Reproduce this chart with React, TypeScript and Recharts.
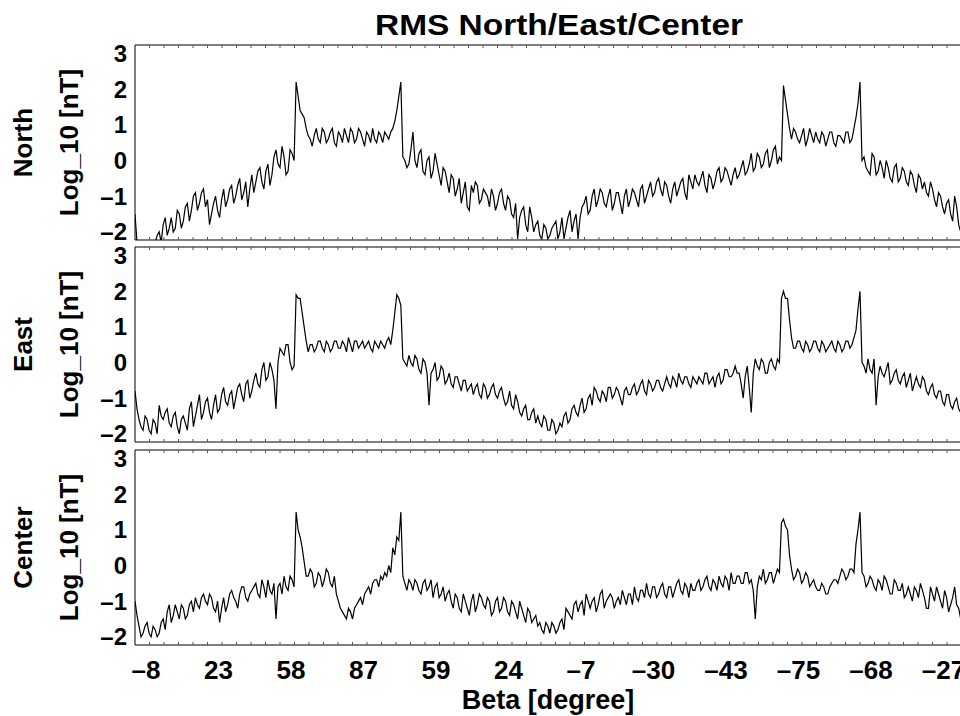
import React from 'react';
import { LineChart, Line, XAxis, YAxis } from 'recharts';

// x tick labels (Beta in degrees) at every major tick
const tickLabels = ['–8', '23', '58', '87', '59', '24', '–7', '–30', '–43', '–75', '–68', '–27'];
const yTicks = [-2, -1, 0, 1, 2, 3];

// log10 RMS values: "A" at whole sample steps (~4 px),
// "B" at the half steps in between
const northA = [
  -1.5, -2.3, -2.3, -2.3, -2.3, -2.3, -2.0, -1.8, -2.1, -1.6,
  -1.9, -1.5, -1.7, -1.2, -1.4, -0.9, -1.2, -0.8, -1.1, -1.5,
  -1.0, -1.6, -0.8, -1.1, -0.7, -1.0, -0.5, -0.9, -1.3, -0.4,
  -0.6, -0.2, -0.8, -0.1, -0.4, 0.3, -0.2, 0.1, -0.3, 0.2,
  2.2, 1.4, 1.2, 0.7, 0.4, 0.9, 0.5, 0.8, 0.6, 0.9,
  0.4, 0.7, 0.9, 0.5, 0.8, 0.6, 0.8, 0.4, 0.7, 0.9,
  0.5, 0.7, 0.8, 0.6, 0.9, 1.4, 2.2, 0.0, -0.1, 0.8,
  -0.2, 0.3, -0.4, 0.1, -0.3, -0.1, -0.7, -0.3, -0.9, -0.5,
  -0.8, -1.2, -0.6, -1.4, -0.9, -0.7, -1.1, -0.9, -1.3, -1.0,
  -1.2, -0.8, -1.4, -1.1, -1.6, -2.2, -1.4, -1.8, -1.3, -2.0,
  -1.7, -2.2, -1.9, -2.1, -1.8, -2.2, -1.6, -1.9, -1.4, -1.7,
  -2.2, -1.3, -1.0, -1.4, -0.8, -1.1, -0.9, -1.3, -0.8, -1.2,
  -0.9, -1.5, -0.8, -1.1, -0.9, -1.3, -0.7, -1.0, -0.6, -0.9,
  -0.5, -1.0, -0.7, -1.2, -0.6, -0.8, -0.5, -1.1, -0.6, -0.4,
  -0.7, -0.3, -0.9, -0.5, -0.6, -0.2, -0.5, -0.3, -0.7, -0.2,
  -0.4, 0.0, -0.3, 0.2, -0.2, 0.1, -0.1, 0.3, 0.0, 0.4,
  0.1, 2.1, 1.3, 0.6, 0.8, 0.5, 0.9, 0.6, 0.7, 0.8,
  0.5, 0.7, 0.6, 0.8, 0.4, 0.7, 0.5, 0.8, 0.6, 1.2,
  2.2, 0.1, -0.3, 0.2, -0.4, 0.0, -0.5, -0.2, -0.6, -0.1,
  -0.5, -0.3, -0.7, -0.4, -0.9, -0.5, -0.6, -1.0, -0.8, -1.3,
  -1.0, -1.5, -1.1, -1.7, -1.3, -2.0, -1.6,
];
const northB = [
  -2.3, -2.3, -2.3, -2.3, -2.3, -2.1, -2.3, -1.6, -1.9, -2.0,
  -1.4, -1.9, -1.3, -1.7, -1.0, -1.4, -0.9, -1.3, -1.8, -1.2,
  -1.4, -1.1, -1.3, -0.8, -1.2, -0.7, -1.1, -0.6, -0.8, -0.9,
  -0.3, -0.6, -0.3, -0.7, 0.1, -0.1, 0.4, -0.4, 0.3, 0.0,
  1.8, 1.3, 0.9, 0.6, 0.7, 0.6, 0.9, 0.5, 0.8, 0.5,
  0.8, 0.5, 0.7, 0.9, 0.5, 0.9, 0.6, 0.8, 0.5, 0.6,
  0.8, 0.5, 0.7, 0.8, 1.1, 1.8, 0.1, -0.2, 0.3, 0.0,
  0.2, -0.3, 0.0, -0.5, 0.2, -0.4, -0.2, -0.6, -0.4, -1.0,
  -0.5, -0.9, -1.3, -0.7, -0.6, -1.2, -0.8, -1.0, -0.8, -1.4,
  -0.9, -1.2, -1.0, -1.5, -1.2, -1.6, -1.3, -2.0, -1.6, -1.8,
  -2.1, -1.8, -2.2, -1.9, -1.7, -2.0, -2.2, -1.6, -2.0, -1.5,
  -1.6, -1.2, -1.5, -1.0, -1.3, -0.8, -1.2, -1.0, -1.4, -0.9,
  -1.2, -1.0, -1.3, -0.8, -1.1, -0.8, -1.2, -0.8, -1.0, -0.6,
  -0.8, -0.6, -1.0, -0.8, -1.0, -0.6, -0.9, -0.4, -0.8, -0.6,
  -0.5, -0.7, -0.4, -0.8, -0.3, -0.6, -0.2, -0.5, -0.4, -0.5,
  -0.2, -0.4, -0.1, -0.3, 0.2, -0.2, 0.2, -0.2, 0.3, -0.1,
  0.0, 1.7, 0.9, 0.9, 0.6, 0.7, 0.4, 0.9, 0.5, 0.6,
  0.8, 0.4, 0.8, 0.5, 0.7, 0.6, 0.8, 0.5, 0.9, 1.6,
  0.0, -0.2, -0.4, 0.1, -0.3, -0.2, 0.0, -0.5, -0.2, -0.6,
  -0.2, -0.6, -0.3, -0.7, -0.4, -0.8, -0.9, -0.6, -1.1, -0.9,
  -1.3, -1.2, -1.5, -1.0, -1.8, -1.4,
];

const eastA = [
  -0.8, -1.6, -1.9, -1.6, -2.0, -1.7, -1.2, -1.6, -1.3, -1.8,
  -1.4, -2.0, -1.5, -1.9, -1.1, -1.5, -0.9, -1.4, -1.0, -1.6,
  -0.9, -1.3, -0.7, -1.2, -0.8, -1.0, -0.6, -1.1, -0.5, -0.8,
  -0.3, -0.7, 0.0, -0.4, -0.2, -1.3, 0.4, 0.2, 0.5, -0.2,
  1.9, 1.8, 1.0, 0.3, 0.5, 0.4, 0.6, 0.3, 0.5, 0.4,
  0.6, 0.4, 0.5, 0.7, 0.3, 0.6, 0.5, 0.4, 0.6, 0.3,
  0.5, 0.6, 0.4, 0.7, 0.9, 1.9, 1.6, 0.0, 0.2, -0.1,
  0.1, -0.3, 0.0, -1.2, -0.2, -0.5, -0.1, -0.6, -0.3, -0.7,
  -0.4, -0.8, -0.5, -0.7, -0.9, -0.6, -1.0, -0.7, -0.9, -0.6,
  -1.0, -0.7, -1.2, -0.8, -1.3, -1.1, -1.5, -1.2, -1.6, -1.3,
  -1.5, -1.8, -1.6, -1.9, -1.7, -1.9, -1.8, -1.4, -1.6, -1.2,
  -1.5, -1.0, -1.3, -0.9, -0.7, -1.0, -0.8, -1.1, -0.7, -0.9,
  -0.8, -1.2, -0.7, -0.9, -0.6, -0.8, -0.5, -0.9, -0.6, -0.7,
  -0.5, -0.8, -0.4, -0.7, -0.5, -0.3, -0.6, -0.4, -0.7, -0.5,
  -0.4, -0.6, -0.3, -0.5, -0.7, -0.3, -0.5, -0.2, -0.4, -0.1,
  -0.3, -1.0, -0.1, -1.4, 0.1, -0.2, 0.0, -0.3, 0.1, -0.2,
  0.0, 2.0, 1.8, 0.7, 0.4, 0.6, 0.3, 0.5, 0.4, 0.6,
  0.3, 0.5, 0.4, 0.6, 0.3, 0.5, 0.4, 0.6, 0.5, 0.9,
  2.0, -0.1, 0.1, -0.3, -1.2, -0.1, -0.4, 0.0, -0.5, -0.2,
  -0.6, -0.3, -0.5, -0.8, -0.4, -0.7, -0.5, -0.9, -0.6, -1.0,
  -0.8, -1.2, -0.9, -1.3, -1.0, -1.4, -1.1,
];
const eastB = [
  -1.3, -1.8, -1.5, -1.9, -1.6, -2.0, -1.5, -1.4, -1.7, -1.5,
  -1.8, -1.6, -1.7, -1.3, -1.8, -1.2, -1.6, -1.1, -1.4, -1.2,
  -1.4, -0.9, -1.1, -0.9, -1.3, -0.7, -0.9, -0.6, -1.0, -0.5,
  -0.6, -0.2, -0.5, 0.0, -0.5, 0.0, 0.3, 0.5, 0.0, -0.1,
  1.8, 1.4, 0.6, 0.5, 0.3, 0.6, 0.4, 0.6, 0.3, 0.6,
  0.4, 0.6, 0.3, 0.5, 0.6, 0.4, 0.6, 0.5, 0.4, 0.6,
  0.4, 0.5, 0.6, 0.5, 1.4, 1.8, 0.1, -0.1, 0.0, 0.2,
  -0.2, 0.1, -0.3, -0.3, 0.0, -0.4, -0.2, -0.5, -0.6, -0.4,
  -0.6, -0.5, -0.8, -0.6, -0.7, -0.9, -0.6, -1.0, -0.7, -0.9,
  -0.8, -1.0, -1.1, -1.2, -0.9, -1.4, -1.3, -1.6, -1.4, -1.7,
  -1.7, -1.5, -1.9, -1.6, -2.0, -1.7, -1.5, -1.7, -1.3, -1.4,
  -1.2, -1.4, -1.0, -1.2, -0.8, -1.1, -0.9, -0.7, -1.0, -0.7,
  -1.0, -0.8, -0.9, -0.7, -0.9, -0.6, -0.8, -0.5, -0.8, -0.5,
  -0.7, -0.6, -0.6, -0.4, -0.7, -0.5, -0.4, -0.6, -0.4, -0.6,
  -0.5, -0.3, -0.6, -0.4, -0.4, -0.6, -0.2, -0.4, -0.3, -0.3,
  -0.6, -0.4, -0.7, -0.3, -0.1, 0.1, -0.3, 0.0, -0.1, 0.1,
  1.8, 1.8, 1.2, 0.4, 0.6, 0.4, 0.6, 0.3, 0.6, 0.4,
  0.6, 0.3, 0.5, 0.4, 0.6, 0.3, 0.6, 0.4, 0.7, 1.5,
  0.0, -0.3, -0.2, 0.1, -0.4, -0.3, -0.2, -0.6, -0.3, -0.5,
  -0.4, -0.7, -0.3, -0.6, -0.6, -0.4, -0.8, -0.7, -0.9, -0.8,
  -1.1, -0.9, -1.2, -1.1, -1.3, -1.0,
];

const centerA = [
  -1.0, -1.7, -1.9, -1.6, -2.0, -1.8, -1.9, -1.5, -1.3, -1.6,
  -1.1, -1.5, -1.2, -1.4, -1.0, -0.9, -1.2, -0.8, -1.1, -0.9,
  -1.3, -1.6, -0.9, -1.1, -0.7, -1.0, -0.8, -0.6, -1.0, -0.7,
  -0.5, -0.9, -0.6, -0.4, -0.8, -1.5, -0.5, -0.3, -0.7, -0.4,
  1.5, 0.8, 0.1, -0.3, -0.2, -0.5, -0.3, -0.4, -0.2, -0.6,
  -0.8, -1.2, -1.4, -1.2, -1.5, -1.1, -0.9, -0.8, -0.6, -0.5,
  -0.4, -0.3, -0.2, 0.0, 0.5, 0.8, 1.5, -0.5, -0.4, -0.7,
  -0.5, -0.8, -0.4, -0.6, -0.9, -0.5, -0.8, -1.0, -0.7, -1.2,
  -0.9, -1.3, -1.0, -1.4, -0.8, -1.1, -0.9, -1.2, -1.0, -1.3,
  -0.9, -1.2, -1.0, -1.4, -1.1, -1.5, -1.2, -1.6, -1.3, -1.5,
  -1.7, -1.8, -1.6, -1.9, -1.7, -1.8, -1.5, -1.2, -1.4, -1.1,
  -1.3, -1.0, -0.8, -1.2, -0.9, -1.1, -0.7, -1.0, -0.8, -1.2,
  -0.9, -0.7, -1.1, -0.8, -0.6, -1.0, -0.7, -0.5, -0.9, -0.6,
  -0.8, -0.5, -0.9, -0.6, -0.7, -0.4, -0.8, -0.6, -0.5, -0.7,
  -0.4, -0.6, -0.3, -0.7, -0.5, -0.3, -0.6, -0.4, -0.2, -0.5,
  -0.3, -0.5, -0.2, -0.4, -1.5, -0.3, -0.1, -0.4, -0.2, -0.3,
  -0.2, 1.3, 1.0, -0.1, -0.3, -0.2, -0.4, -0.3, -0.5, -0.6,
  -0.7, -0.6, -0.8, -0.5, -0.4, -0.3, -0.2, -0.3, -0.1, 0.6,
  1.5, -0.3, -0.5, -0.4, -0.7, -0.5, -0.3, -0.6, -0.8, -0.5,
  -0.7, -0.9, -0.6, -1.0, -0.7, -0.5, -0.9, -1.2, -0.8, -0.6,
  -1.0, -0.7, -1.3, -0.9, -1.1, -1.5, -0.8,
];
const centerB = [
  -1.4, -2.0, -1.7, -1.9, -1.7, -2.0, -1.6, -1.8, -1.1, -1.4,
  -1.3, -1.1, -1.5, -1.1, -1.3, -1.1, -0.9, -1.0, -0.8, -1.2,
  -1.0, -1.2, -1.3, -0.8, -0.9, -1.2, -0.6, -0.9, -0.8, -0.6,
  -0.8, -0.4, -0.9, -0.7, -0.5, -0.6, -0.8, -0.6, -0.3, -0.6,
  1.0, 0.5, -0.3, -0.1, -0.6, -0.2, -0.6, -0.1, -0.5, -0.3,
  -1.0, -1.3, -1.5, -1.3, -1.2, -1.0, -1.1, -0.7, -0.8, -0.4,
  -0.6, -0.4, -0.3, -0.2, 0.3, 0.7, -0.3, -0.7, -0.5, -0.4,
  -0.7, -0.5, -0.7, -0.4, -0.6, -0.9, -0.6, -0.8, -1.0, -0.8,
  -1.2, -0.8, -1.2, -1.0, -1.3, -0.8, -1.1, -0.9, -1.4, -1.0,
  -1.3, -0.9, -1.3, -1.0, -1.3, -1.0, -1.4, -1.2, -1.6, -1.4,
  -1.6, -1.9, -1.7, -1.6, -1.9, -1.6, -1.8, -1.3, -1.5, -1.0,
  -1.1, -1.4, -1.0, -1.0, -1.3, -0.8, -1.2, -0.9, -0.9, -1.0,
  -1.1, -0.9, -0.8, -1.1, -0.9, -0.7, -0.9, -0.8, -0.6, -0.9,
  -0.6, -0.8, -0.6, -0.9, -0.5, -0.7, -0.5, -0.9, -0.7, -0.5,
  -0.7, -0.4, -0.6, -0.4, -0.7, -0.5, -0.3, -0.7, -0.5, -0.3,
  -0.5, -0.2, -0.5, -0.7, -0.6, -0.4, -0.5, -0.2, -0.5, -0.1,
  1.2, 1.1, 0.3, -0.4, -0.1, -0.5, -0.2, -0.6, -0.4, -0.7,
  -0.5, -0.8, -0.6, -0.4, -0.5, -0.1, -0.4, -0.1, -0.2, 1.0,
  -0.2, -0.6, -0.3, -0.6, -0.4, -0.7, -0.4, -0.8, -0.4, -0.7,
  -0.5, -0.8, -0.8, -0.6, -0.9, -0.7, -1.2, -0.6, -1.0, -0.8,
  -1.2, -0.9, -1.1, -0.6, -1.2, -1.1,
];

const FONT = '"Liberation Sans", Arial, Helvetica, sans-serif';
const X_MAX = 216;
const MAJOR = 18;
const MINOR = MAJOR / 5;
const minorTicks = Array.from({ length: 61 }, (_, k) => k * MINOR);
const Y_DOMAIN: [number, number] = [-2.23, 3.24];

// merge whole-step and half-step readings into one row list
const buildRows = (a: number[], b: number[]) => {
  const rows: { x: number; v: number }[] = [];
  a.forEach((v, i) => {
    rows.push({ x: i, v });
    if (i < b.length) rows.push({ x: i + 0.5, v: b[i] });
  });
  return rows;
};

const BottomTick = (props: any) => {
  const { x, y, payload, showLabel } = props;
  const k = Math.round(payload.value / MINOR);
  const major = k % 5 === 0;
  const label = major ? tickLabels[k / 5] : null;
  return (
    <g>
      {k > 0 && <line x1={x} x2={x} y1={y} y2={y - 3} stroke="#555" />}
      {showLabel && label && (
        <text x={x + 11} y={y + 34} textAnchor="middle" fontSize={26} fontWeight="bold" fontFamily={FONT} fill="#000">
          {label}
        </text>
      )}
    </g>
  );
};

const TopTick = (props: any) => {
  const { x, y, payload } = props;
  if (payload.value === 0) return <g />;
  return <line x1={x} x2={x} y1={y} y2={y + 3} stroke="#555" />;
};

const LeftTick = (props: any) => {
  const { x, y, payload } = props;
  const v = payload.value;
  const label = v < 0 ? '–' + Math.abs(v) : String(v);
  return (
    <text x={x - 8} y={y + 8.5} textAnchor="end" fontSize={24} fontWeight="bold" fontFamily={FONT} fill="#000">
      {label}
    </text>
  );
};

function Panel({ rows, top, showLabels, frame, frameWidth }: any) {
  const axisStyle = { stroke: frame, strokeWidth: frameWidth };
  return (
    <div style={{ position: 'absolute', left: 0, top: top - 20 }}>
      <LineChart width={1010} height={265} data={rows} margin={{ top: 0, right: 5, bottom: 0, left: 75 }}>
        <XAxis
          xAxisId="top"
          orientation="top"
          type="number"
          dataKey="x"
          domain={[0, X_MAX]}
          ticks={minorTicks}
          interval={0}
          height={20}
          tickSize={0}
          tickMargin={0}
          tickLine={false}
          axisLine={axisStyle}
          tick={<TopTick />}
          allowDataOverflow
        />
        <XAxis
          xAxisId="bottom"
          orientation="bottom"
          type="number"
          dataKey="x"
          domain={[0, X_MAX]}
          ticks={minorTicks}
          interval={0}
          height={50}
          tickSize={0}
          tickMargin={0}
          tickLine={false}
          axisLine={axisStyle}
          tick={<BottomTick showLabel={showLabels} />}
          allowDataOverflow
        />
        <YAxis
          type="number"
          domain={Y_DOMAIN}
          ticks={yTicks}
          interval={0}
          width={60}
          tickSize={0}
          tickMargin={0}
          tickLine={false}
          axisLine={{ stroke: '#000' }}
          tick={<LeftTick />}
          allowDataOverflow
        />
        <Line
          xAxisId="bottom"
          type="linear"
          dataKey="v"
          stroke="#000"
          strokeWidth={1.2}
          dot={false}
          isAnimationActive={false}
        />
      </LineChart>
    </div>
  );
}

const panels = [
  { name: 'North', rows: buildRows(northA, northB), top: 45, frame: '#000', frameWidth: 1 },
  { name: 'East', rows: buildRows(eastA, eastB), top: 247, frame: '#808080', frameWidth: 2 },
  { name: 'Center', rows: buildRows(centerA, centerB), top: 450, frame: '#000', frameWidth: 1 },
];

export default function App() {
  return (
    <div style={{ position: 'absolute', left: 0, top: 0, width: 960, height: 716, overflow: 'hidden', background: '#fff' }}>
      {panels.map((p, idx) => (
        <Panel
          key={p.name}
          rows={p.rows}
          top={p.top}
          frame={p.frame}
          frameWidth={p.frameWidth}
          showLabels={idx === panels.length - 1}
        />
      ))}
      <svg width={960} height={716} style={{ position: 'absolute', left: 0, top: 0, pointerEvents: 'none' }}>
        <text x={375} y={35} textLength={368} lengthAdjust="spacingAndGlyphs" fontSize={30} fontWeight="bold" fontFamily={FONT} fill="#000">
          RMS North/East/Center
        </text>
        {panels.map((p) => {
          const cy = p.top + 97.5;
          return (
            <g key={p.name}>
              <text transform={`translate(32,${cy}) rotate(-90)`} textAnchor="middle" fontSize={26} fontWeight="bold" fontFamily={FONT} fill="#000">
                {p.name}
              </text>
              <text transform={`translate(78,${cy}) rotate(-90)`} textAnchor="middle" fontSize={26} fontWeight="bold" fontFamily={FONT} fill="#000">
                Log_10 [nT]
              </text>
            </g>
          );
        })}
        <text x={548} y={709} textAnchor="middle" fontSize={27} fontWeight="bold" fontFamily={FONT} fill="#000">
          Beta [degree]
        </text>
      </svg>
    </div>
  );
}
